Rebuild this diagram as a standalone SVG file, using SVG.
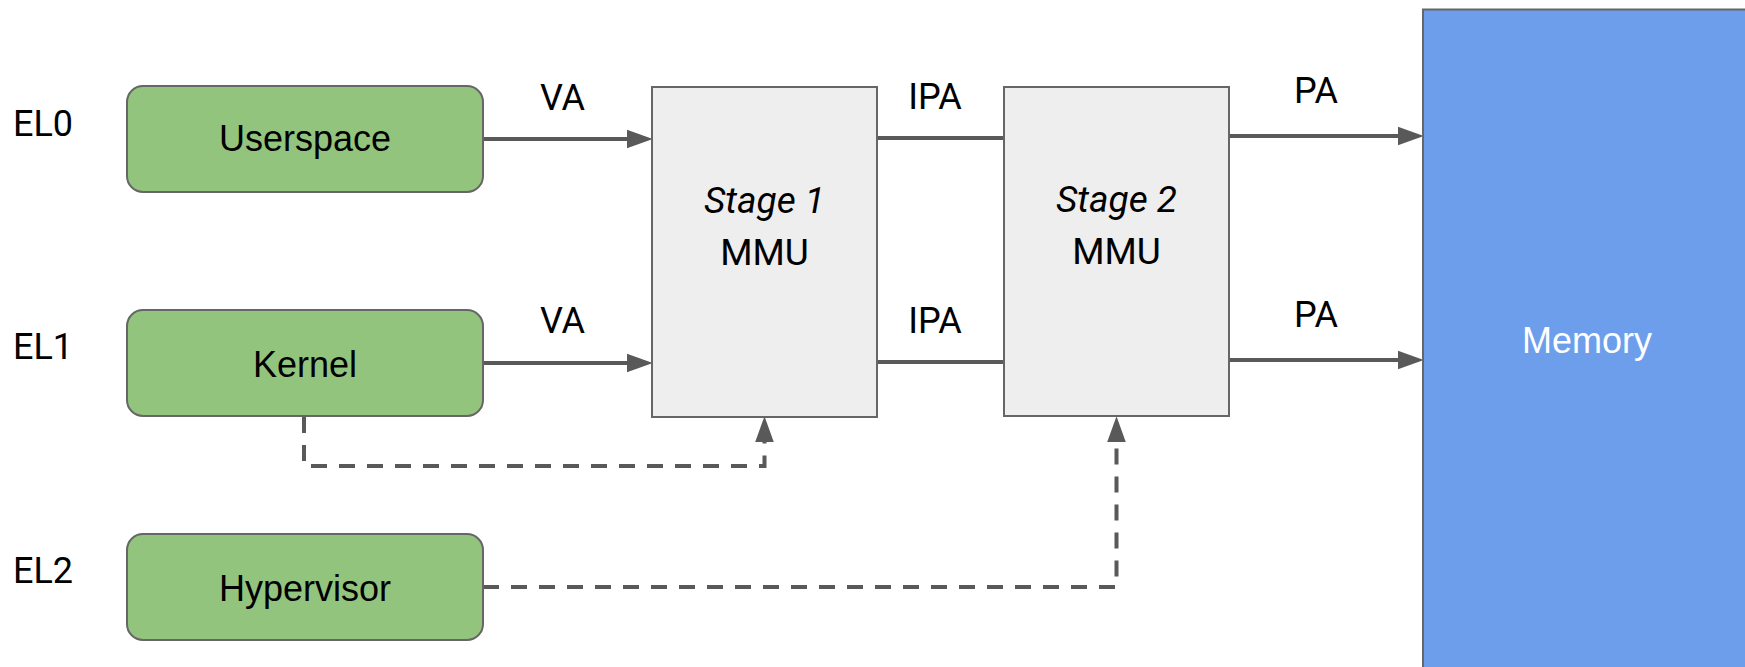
<svg xmlns="http://www.w3.org/2000/svg" width="1745" height="667" viewBox="0 0 1745 667">
  <style>
    .lvl { font-family: Roboto, "Liberation Sans", sans-serif; font-size: 36px; fill: #000; }
    .lbl { font-family: Roboto, "Liberation Sans", sans-serif; font-size: 36px; fill: #000; text-anchor: middle; }
    .stg { font-family: Roboto, "Liberation Sans", sans-serif; font-size: 37px; fill: #000; text-anchor: middle; }
    .name { font-family: "Liberation Sans", Arial, sans-serif; font-size: 36px; fill: #000; text-anchor: middle; }
    .el { fill: #93c47d; stroke: #666666; stroke-width: 2; }
    .mmu { fill: #eeeeee; stroke: #666666; stroke-width: 2; }
    .mem { fill: #6d9eeb; stroke: #666666; stroke-width: 2; }
    .wire { fill: none; stroke: #595959; stroke-width: 4; }
    .dash { fill: none; stroke: #595959; stroke-width: 4; stroke-dasharray: 16 12; }
  </style>
  <defs>
    <marker id="arrow" markerUnits="userSpaceOnUse" markerWidth="26" markerHeight="20" viewBox="0 0 25 18" refX="5" refY="9" orient="auto">
      <path d="M0,0 L25,9 L0,18 Z" fill="#595959" stroke="none"/>
    </marker>
  </defs>

  <rect x="0" y="0" width="1745" height="667" fill="#ffffff"/>

  <!-- privilege level labels -->
  <text class="lvl" x="13" y="136">EL0</text>
  <text class="lvl" x="13" y="359">EL1</text>
  <text class="lvl" x="13" y="583">EL2</text>

  <!-- connectors -->
  <g id="connectors">
    <path class="wire" d="M483,139 H632" marker-end="url(#arrow)"/>
    <path class="wire" d="M483,363 H632" marker-end="url(#arrow)"/>
    <path class="wire" d="M877,138 H1004"/>
    <path class="wire" d="M877,362 H1004"/>
    <path class="wire" d="M1229,136 H1403" marker-end="url(#arrow)"/>
    <path class="wire" d="M1229,360 H1403" marker-end="url(#arrow)"/>
    <path class="dash" d="M304,417 V466 H764.5 V437" marker-end="url(#arrow)"/>
    <path class="dash" d="M483,587 H1116.5 V437" marker-end="url(#arrow)"/>
    <text class="lbl" x="562.5" y="110">VA</text>
    <text class="lbl" x="562.5" y="333">VA</text>
    <text class="lbl" x="935" y="109">IPA</text>
    <text class="lbl" x="935" y="333">IPA</text>
    <text class="lbl" x="1316" y="103">PA</text>
    <text class="lbl" x="1316" y="327">PA</text>
  </g>

  <g id="userspace">
    <rect class="el" x="127" y="86" width="356" height="106" rx="16"/>
    <text class="name" x="305" y="151">Userspace</text>
  </g>
  <g id="kernel">
    <rect class="el" x="127" y="310" width="356" height="106" rx="16"/>
    <text class="name" x="305" y="376.5">Kernel</text>
  </g>
  <g id="hypervisor">
    <rect class="el" x="127" y="534" width="356" height="106" rx="16"/>
    <text class="name" x="305" y="600.5">Hypervisor</text>
  </g>

  <g id="stage1">
    <rect class="mmu" x="652" y="87" width="225" height="330"/>
    <text class="stg" x="764.5" y="213" font-style="italic">Stage 1</text>
    <text class="stg" x="764.5" y="265">MMU</text>
  </g>
  <g id="stage2">
    <rect class="mmu" x="1004" y="87" width="225" height="329"/>
    <text class="stg" x="1116.5" y="212" font-style="italic">Stage 2</text>
    <text class="stg" x="1116.5" y="264">MMU</text>
  </g>

  <g id="memory">
    <rect class="mem" x="1423" y="9.5" width="330" height="700"/>
    <text class="name" x="1587" y="353" style="fill:#ffffff">Memory</text>
  </g>
</svg>
